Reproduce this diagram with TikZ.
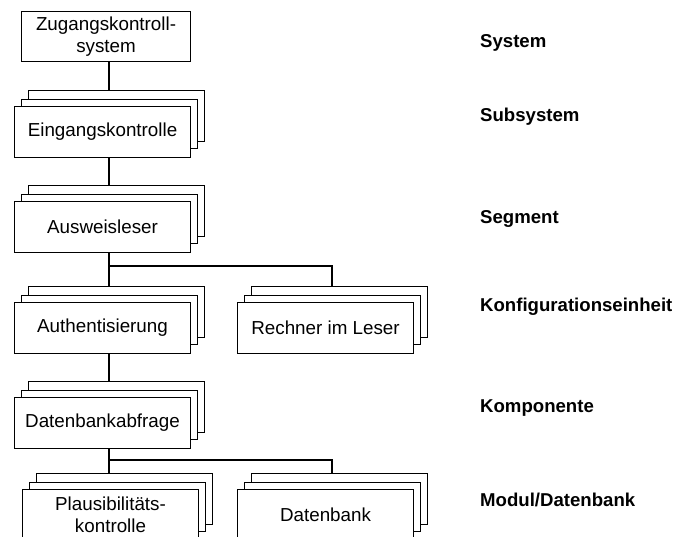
\documentclass[tikz,border=0pt]{standalone}
\usepackage{fontspec}
\setmainfont{Liberation Sans}
\newcommand\boxfont{\fontsize{18.8}{21.5}\selectfont}
\newcommand\levelfont{\fontsize{18.6}{21.5}\selectfont\bfseries}
\tikzset{
  card/.style={draw, fill=white, line width=1.05pt, minimum width=176pt,
    minimum height=51pt, inner sep=0pt, anchor=north west,
    font=\boxfont, align=center},
  level/.style={anchor=base west, font=\levelfont, inner sep=0pt},
  link/.style={draw, line width=1.05pt},
}
% three stacked cards: back, middle, front (front carries the text)
\newcommand\cardstack[4]{%
  \node[card] (#1-b) at (#2+14,#3-16) {};
  \node[card, minimum height=49pt] (#1-m) at (#2+7,#3-7) {};
  \node[card] (#1) at (#2,#3) {#4};
}
\begin{document}
\begin{tikzpicture}[x=1pt, y=-1pt]
\useasboundingbox (0,0) rectangle (678,537);
\clip (0,0) rectangle (678,537);

% vertical spines and branch junctions
\coordinate (spine) at (109,0);
\coordinate (rspine) at (332,0);
\coordinate (j1) at (109,266);
\coordinate (j2) at (109,460);

% tree
\node[card, minimum width=169pt, minimum height=50pt] (sys) at (21,11)
  {Zugangskontroll-\\system};
\cardstack{eing}{14}{106}{Eingangskontrolle}
\cardstack{ausw}{14}{201}{Ausweisleser}
\cardstack{auth}{14}{302}{Authentisierung}
\cardstack{rech}{237}{302}{Rechner im Leser}
\cardstack{dbab}{14}{397}{Datenbankabfrage}
\cardstack{plaus}{22}{489}{Plausibilitäts-\\kontrolle}
\cardstack{db}{237}{489}{Datenbank}

% connectors
\path[link] (sys.south -| spine) -- (eing-b.north -| spine);
\path[link] (eing.south -| spine) -- (ausw-b.north -| spine);
\path[link] (ausw.south -| spine) -- (auth-b.north -| spine);
\path[link] (j1) -| (rech-b.north -| rspine);
\path[link] (auth.south -| spine) -- (dbab-b.north -| spine);
\path[link] (dbab.south -| spine) -- (plaus-b.north -| spine);
\path[link] (j2) -| (db-b.north -| rspine);

% level names
\node[level] (l1) at (480,48) {System};
\node[level] (l2) at (480,122) {Subsystem};
\node[level] (l3) at (480,224) {Segment};
\node[level] (l4) at (480,312) {Konfigurationseinheit};
\node[level] (l5) at (480,413) {Komponente};
\node[level] (l6) at (480,507) {Modul/Datenbank};
\end{tikzpicture}
\end{document}
